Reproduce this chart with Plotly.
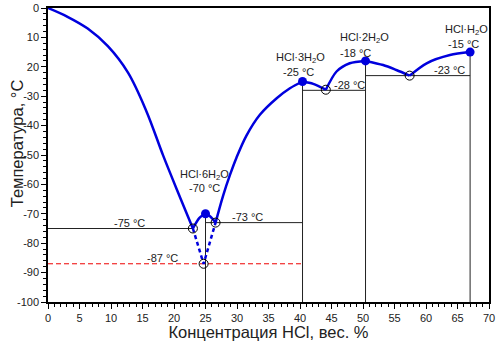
import plotly.graph_objects as go

# --- data ---
ice_x = [0, 3.1, 6.3, 9.5, 12.7, 15.6, 18.3, 21.0, 23.0]
ice_y = [0, -3.0, -7.0, -13.0, -22.0, -35.0, -50.3, -64.6, -75.0]

hex_x = [23.0, 24.0, 25.0, 25.8, 26.6]
hex_y = [-75.0, -71.5, -70.0, -71.0, -73.0]

rise_x = [26.6, 27.8, 28.9, 29.9, 31.5, 33.6, 36.3, 38.4, 40.4]
rise_y = [-73.0, -63.8, -56.7, -51.0, -43.4, -36.4, -30.7, -27.3, -25.0]

tri_x = [40.4, 42.1, 44.1]
tri_y = [-25.0, -25.8, -27.8]
di_a_x = [44.1, 45.8, 47.9, 50.4]
di_a_y = [-27.8, -21.6, -18.8, -18.0]
di_b_x = [50.4, 53.2, 55.3, 57.4]
di_b_y = [-18.0, -19.4, -21.1, -23.0]
mono_x = [57.4, 60.1, 63.8, 67.0]
mono_y = [-23.0, -18.8, -16.0, -15.0]

meta_x = [23.0, 24.7, 26.6]
meta_y = [-75.0, -87.0, -73.0]

hydrate_x = [25.0, 40.4, 50.4, 67.0]
hydrate_y = [-70.0, -25.0, -18.0, -15.0]
hydrate_names = ["HCl·6H<sub>2</sub>O", "HCl·3H<sub>2</sub>O", "HCl·2H<sub>2</sub>O", "HCl·H<sub>2</sub>O"]
hydrate_temps = ["-70 °C", "-25 °C", "-18 °C", "-15 °C"]

eut_x = [23.0, 26.6, 44.1, 57.4, 24.7]
eut_y = [-75.0, -73.0, -27.8, -23.0, -87.0]

# horizontal eutectic lines: (x0, x1, T)
hline_x0 = [0, 25.0, 40.4, 50.4]
hline_x1 = [23.0, 40.4, 50.4, 67.0]
hline_t = [-75, -73, -28, -23]
meta_t = -87
meta_x1 = 40.4

x_ticks = list(range(0, 71, 5))
y_ticks = list(range(0, -101, -10))
y_ticktext = ["0", "10", "20", "-30", "-40", "-50", "-60", "-70", "-80", "-90", "-100"]

BLUE = "#0000dd"
fig = go.Figure()

# black structure lines
for x0, x1, t in zip(hline_x0, hline_x1, hline_t):
    fig.add_trace(go.Scatter(x=[x0, x1], y=[t, t], mode="lines",
                             line=dict(color="#222", width=1), hoverinfo="skip"))
for hx, hy in zip(hydrate_x, hydrate_y):
    fig.add_trace(go.Scatter(x=[hx, hx], y=[hy, -100], mode="lines",
                             line=dict(color="#222", width=1), hoverinfo="skip"))
fig.add_trace(go.Scatter(x=[0, meta_x1], y=[meta_t, meta_t], mode="lines",
                         line=dict(color="#ee0000", width=1, dash="5px,3px"), hoverinfo="skip"))

for xs, ys, sm in [(ice_x, ice_y, 1.0), (hex_x, hex_y, 0.6), (rise_x, rise_y, 1.0),
                   (tri_x, tri_y, 0.8), (di_a_x, di_a_y, 0.8), (di_b_x, di_b_y, 0.8),
                   (mono_x, mono_y, 0.8)]:
    fig.add_trace(go.Scatter(x=xs, y=ys, mode="lines",
                             line=dict(color=BLUE, width=2.5, shape="spline", smoothing=sm)))

fig.add_trace(go.Scatter(x=meta_x, y=meta_y, mode="lines",
                         line=dict(color=BLUE, width=2.5, dash="4px,3px")))

fig.add_trace(go.Scatter(x=hydrate_x, y=hydrate_y, mode="markers",
                         marker=dict(color=BLUE, size=9)))
fig.add_trace(go.Scatter(x=eut_x, y=eut_y, mode="markers",
                         marker=dict(color="rgba(0,0,0,0)", size=9,
                                     line=dict(color="black", width=1))))

FONT = dict(family="Liberation Sans, Arial", size=11, color="#222")
ann = []
# hydrate labels: (x of name, shift), (x of temp, shift)
name_pos = [(24.9, 39), (40.1, 24), (50.2, 22.5), (66.35, 22)]
temp_pos = [(24.8, 26), (39.7, 10), (48.8, 7.5), (66.0, 8)]
for i, hy in enumerate(hydrate_y):
    ann.append(dict(x=name_pos[i][0], y=hy, text=hydrate_names[i], showarrow=False,
                    yshift=name_pos[i][1], font=FONT))
    ann.append(dict(x=temp_pos[i][0], y=hy, text=hydrate_temps[i], showarrow=False,
                    yshift=temp_pos[i][1], font=FONT))
# eutectic temps
eut_lbl_x = [13.0, 31.7, 47.8, 63.7]
for lx, t in zip(eut_lbl_x, hline_t):
    ann.append(dict(x=lx, y=t, text=f"{t} °C", showarrow=False, yshift=5.8, font=FONT))
ann.append(dict(x=18.2, y=meta_t, text=f"{meta_t} °C", showarrow=False, yshift=5.5, font=FONT))

# y-axis title as rotated annotation
ann.append(dict(xref="paper", yref="paper", x=-0.0703, y=0.54, text="Температура, °C",
                textangle=-90, showarrow=False, xanchor="center", yanchor="middle",
                font=dict(family="Liberation Sans, Arial", size=16.5, color="#222")))

fig.update_layout(
    width=500, height=341,
    margin=dict(l=48, r=11, t=8, b=39),
    paper_bgcolor="white", plot_bgcolor="white",
    showlegend=False,
    annotations=ann,
    font=dict(family="Liberation Sans, Arial", color="#222"),
    xaxis=dict(range=[0, 70], tickvals=x_ticks, ticks="outside", ticklen=5, tickwidth=1,
               tickcolor="black", showgrid=False, zeroline=False, automargin=False,
               showline=True, linecolor="black", linewidth=1.5, mirror=True,
               tickfont=dict(size=11),
               minor=dict(dtick=1, ticks="outside", ticklen=3, tickcolor="black"),
               title=dict(text="Концентрация HCl, вес. %", font=dict(size=16.5), standoff=2)),
    yaxis=dict(range=[-100, 0], tickvals=y_ticks, ticktext=y_ticktext, ticks="outside",
               ticklen=5, tickwidth=1, tickcolor="black", showgrid=False, zeroline=False,
               automargin=False,
               showline=True, linecolor="black", linewidth=1.5, mirror=True,
               tickfont=dict(size=11),
               minor=dict(dtick=2, ticks="outside", ticklen=3, tickcolor="black")),
)

fig.write_html("out.html")
